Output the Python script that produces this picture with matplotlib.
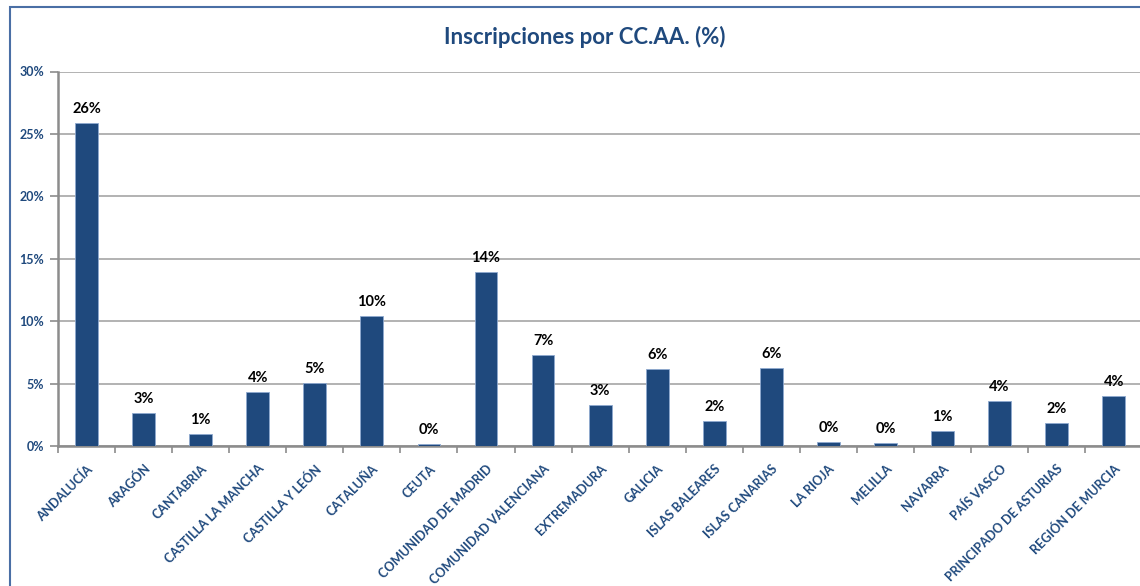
# Inscripciones por CC.AA. (%)
import matplotlib
matplotlib.use('Agg')
import matplotlib.pyplot as plt
from matplotlib.patches import Rectangle
from matplotlib.ticker import FuncFormatter, FixedLocator

# datos
comunidades = ["ANDALUCÍA", "ARAGÓN", "CANTABRIA", "CASTILLA LA MANCHA",
               "CASTILLA Y LEÓN", "CATALUÑA", "CEUTA", "COMUNIDAD DE MADRID",
               "COMUNIDAD VALENCIANA", "EXTREMADURA", "GALICIA", "ISLAS BALEARES",
               "ISLAS CANARIAS", "LA RIOJA", "MELILLA", "NAVARRA", "PAÍS VASCO",
               "PRINCIPADO DE ASTURIAS", "REGIÓN DE MURCIA"]
porcentajes = [25.9, 2.64, 0.96, 4.33, 5.02, 10.4, 0.15, 13.95, 7.32, 3.26,
               6.17, 1.98, 6.22, 0.30, 0.21, 1.18, 3.6, 1.87, 4.03]
etiquetas = ["26%", "3%", "1%", "4%", "5%", "10%", "0%", "14%", "7%", "3%",
             "6%", "2%", "6%", "0%", "0%", "1%", "4%", "2%", "4%"]
y_ticks = [0, 5, 10, 15, 20, 25, 30]

azul = '#1F497D'
gris = '#8C8C8C'
plt.rcParams['font.family'] = ['Lato', 'DejaVu Sans']

fig = plt.figure(figsize=(11.4, 5.86), dpi=100)
ax = fig.add_axes([58 / 1140, 1 - 446 / 586, 1 - 58 / 1140 + 0.002, (446 - 71.5) / 586])

# marco del gráfico
fig.patches.append(Rectangle((10 / 1140, -0.1), 1.2, 1 - 7 / 586 + 0.1,
                             transform=fig.transFigure, fill=False,
                             edgecolor='#4A6FA5', linewidth=1.5))

x = range(len(comunidades))
barras = ax.bar(x, porcentajes, width=0.4, color=azul, edgecolor='#8EA9CF',
                linewidth=0.6, zorder=3)

for xi, v, txt in zip(x, porcentajes, etiquetas):
    ax.annotate(txt, (xi, v), xytext=(0, 5), textcoords='offset points',
                ha='center', va='bottom', fontsize=10.5, fontweight='bold',
                color='black')

ax.set_xlim(-0.5, len(comunidades) - 0.5)
ax.set_ylim(0, 30)
ax.yaxis.set_major_locator(FixedLocator(y_ticks))
ax.yaxis.set_major_formatter(FuncFormatter(lambda v, p: f"{v:.0f}%"))
ax.grid(axis='y', color='#A6A6A6', linewidth=1.2, zorder=0)

ax.set_xticks(list(x))
ax.set_xticklabels(comunidades, rotation=45, ha='right', rotation_mode='anchor',
                   fontsize=9, fontweight='bold', color=azul)
ax.set_xticks([i - 0.5 for i in range(len(comunidades) + 1)], minor=True)
ax.tick_params(axis='x', which='major', length=0, pad=12)
ax.tick_params(axis='x', which='minor', length=5, color=gris, width=1.2)
ax.tick_params(axis='y', length=6, color=gris, width=1.2, labelsize=9,
               labelcolor=azul, pad=4)
for lbl in ax.get_yticklabels():
    lbl.set_fontweight('bold')

for s in ['top', 'right']:
    ax.spines[s].set_visible(False)
for s in ['left', 'bottom']:
    ax.spines[s].set_color(gris)
    ax.spines[s].set_linewidth(1.8)

fig.text(585 / 1140, 1 - 37 / 586, "Inscripciones por CC.AA. (%)", ha='center',
         va='center', fontsize=16, fontweight='bold', color=azul)

fig.savefig('out.png', dpi=100)
